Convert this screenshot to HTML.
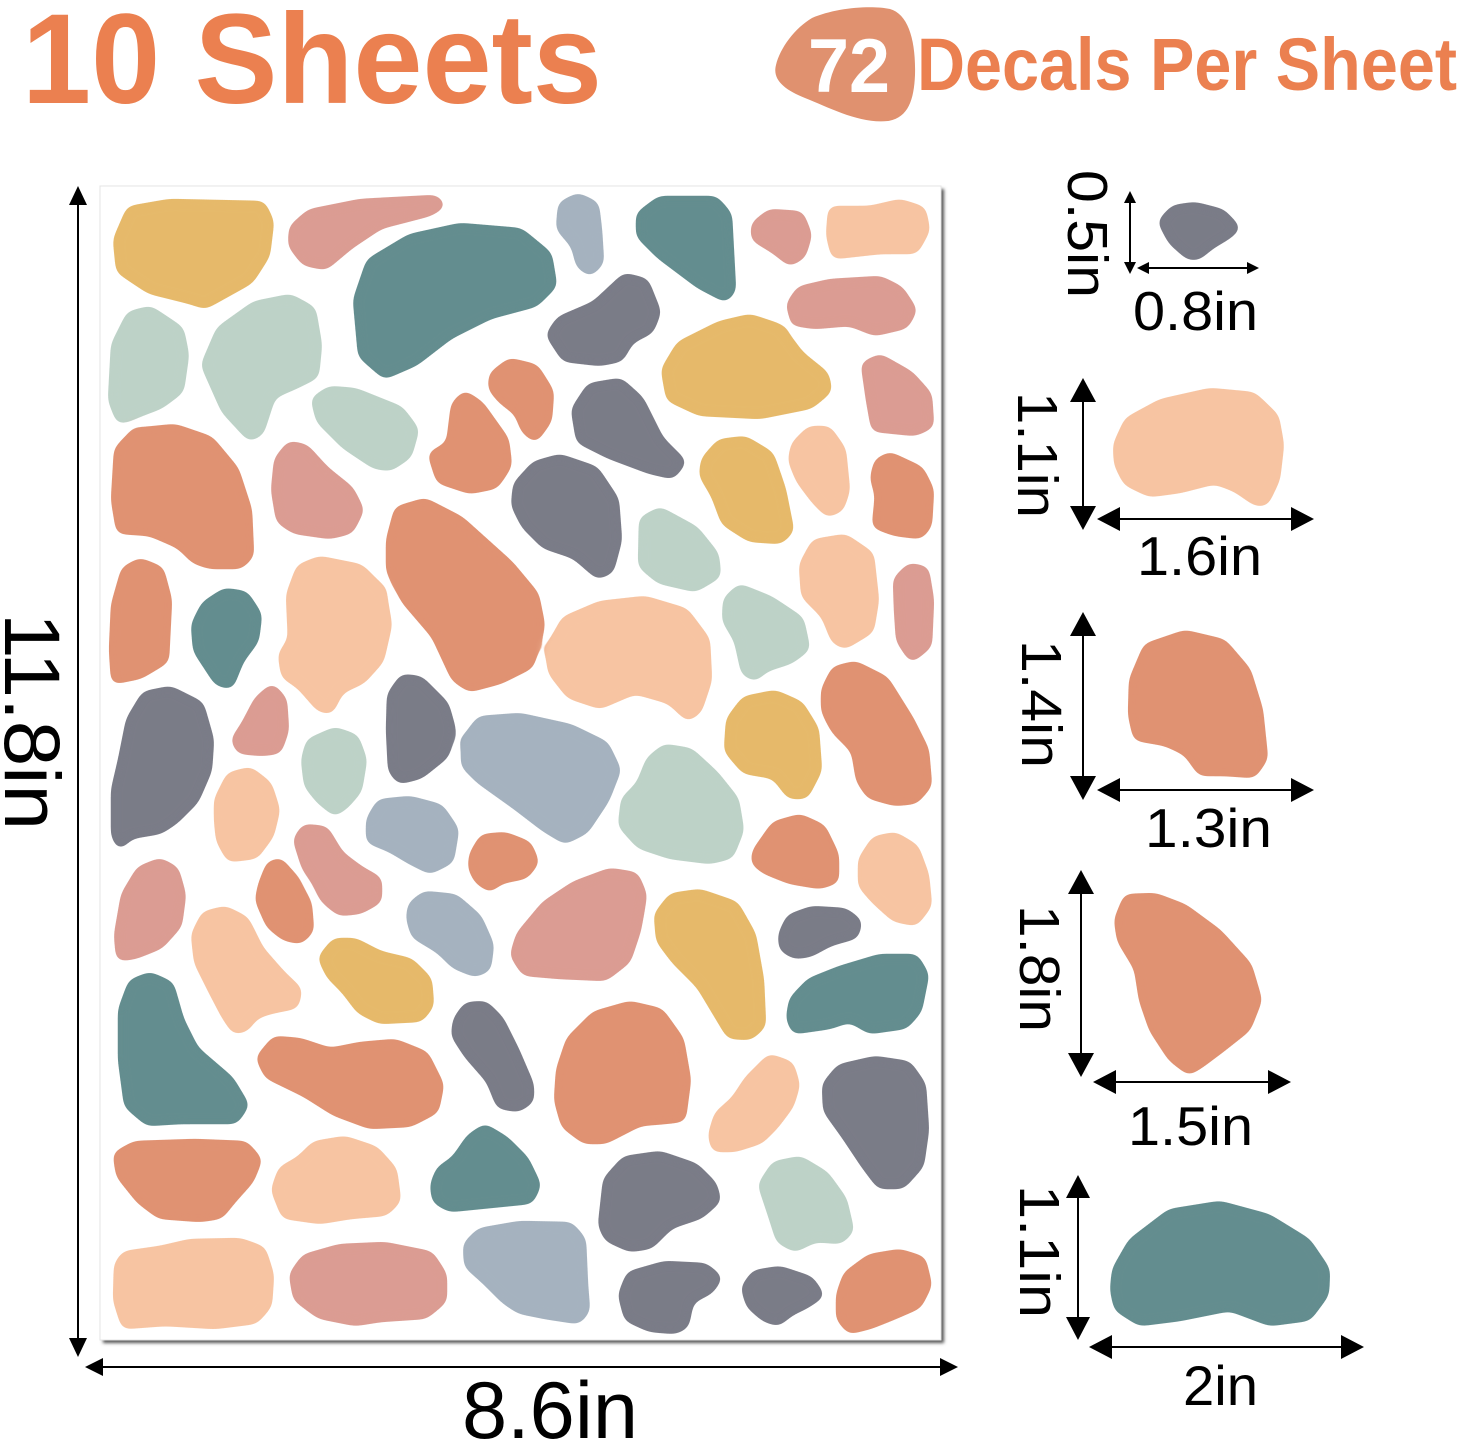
<!DOCTYPE html>
<html>
<head>
<meta charset="utf-8">
<style>
html,body{margin:0;padding:0;background:#fff;}
svg{display:block;}
.Y{fill:#E6B96A;stroke:#E6B96A}
.P{fill:#DB9C93;stroke:#DB9C93}
.T{fill:#638D8F;stroke:#638D8F}
.B{fill:#A5B2BF;stroke:#A5B2BF}
.S{fill:#7A7B87;stroke:#7A7B87}
.O{fill:#E09272;stroke:#E09272}
.C{fill:#F7C4A2;stroke:#F7C4A2}
.G{fill:#BDD2C7;stroke:#BDD2C7}
polygon{stroke-width:8;stroke-linejoin:round}
.ah{fill:#000;stroke:none}
.ln{stroke:#000;stroke-width:2;fill:none}
.lbl{font-family:"Liberation Sans",Arial,sans-serif;fill:#000}
</style>
</head>
<body>
<svg width="1460" height="1446" viewBox="0 0 1460 1446" xmlns="http://www.w3.org/2000/svg">
<defs>
<filter id="sh" x="-5%" y="-5%" width="110%" height="110%">
<feGaussianBlur stdDeviation="1.5"/>
</filter>
<filter id="goo" filterUnits="userSpaceOnUse" x="0" y="0" width="1460" height="1446">
<feGaussianBlur in="SourceGraphic" stdDeviation="5" result="bl"/>
<feColorMatrix in="bl" type="matrix" values="1 0 0 0 0  0 1 0 0 0  0 0 1 0 0  0 0 0 24 -11"/>
</filter>
</defs>
<rect x="0" y="0" width="1460" height="1446" fill="#fff"/>

<!-- Titles -->
<text x="22" y="103" font-family="Liberation Sans, Arial, sans-serif" font-weight="bold" font-size="128" fill="#EB8050" textLength="580" lengthAdjust="spacingAndGlyphs">10 Sheets</text>
<path d="M812,18 C835,8 870,5 890,9 C908,14 916,40 915,75 C914,100 908,118 888,121 C860,124 830,108 805,98 C785,90 772,80 776,65 C780,48 795,28 812,18 Z" fill="#E0916F"/>
<text x="808" y="92" font-family="Liberation Sans, Arial, sans-serif" font-weight="bold" font-size="76" fill="#fff" textLength="82" lengthAdjust="spacingAndGlyphs">72</text>
<text x="917" y="90" font-family="Liberation Sans, Arial, sans-serif" font-weight="bold" font-size="74" fill="#EB8050" textLength="540" lengthAdjust="spacingAndGlyphs">Decals Per Sheet</text>

<!-- Sheet -->
<rect x="103" y="189" width="841" height="1154" fill="#555" filter="url(#sh)"/>
<rect x="100" y="186" width="841" height="1154" fill="#fff" stroke="#e4e4e4" stroke-width="1"/>

<!-- Blobs -->
<g filter="url(#goo)">
<polygon class="Y" points="130,210 170,203 262,205 270,222 266,255 250,280 205,305 190,300 150,290 120,270 117,240"/>
<polygon class="P" points="293,228 310,213 360,203 435,199 441,205 430,212 380,225 350,245 325,266 305,262 292,245"/>
<polygon class="B" points="562,205 578,197 595,205 598,230 600,262 590,272 580,265 575,245 560,228"/>
<polygon class="T" points="640,215 660,200 715,200 728,215 732,290 725,298 700,285 660,255 640,235"/>
<polygon class="P" points="755,225 770,213 800,215 808,235 802,255 790,262 775,250 755,238"/>
<polygon class="C" points="832,210 870,210 900,203 922,210 926,230 915,250 880,250 835,255 830,235"/>
<polygon class="T" points="357,300 370,262 410,238 460,227 520,232 548,255 553,285 535,303 490,315 450,335 415,362 385,375 362,355"/>
<polygon class="S" points="550,335 560,320 595,305 625,277 645,282 657,312 650,330 630,340 620,358 600,362 565,358"/>
<polygon class="P" points="790,305 800,290 830,283 880,280 900,290 913,310 905,325 875,332 850,322 815,325 795,322"/>
<polygon class="G" points="115,345 130,315 150,310 180,330 185,355 180,390 160,405 120,420 112,400"/>
<polygon class="G" points="205,365 220,330 255,305 290,298 312,310 318,345 315,375 295,385 272,395 260,432 250,437 225,410"/>
<polygon class="G" points="315,400 330,390 355,392 400,410 415,430 408,455 390,467 375,465 345,445 320,420"/>
<polygon class="O" points="493,375 510,362 535,368 550,392 548,420 535,438 525,430 518,412 502,400 492,388"/>
<polygon class="O" points="432,455 450,445 455,405 465,395 480,405 505,440 508,465 495,485 470,490 440,480"/>
<polygon class="Y" points="665,370 680,345 720,325 750,318 780,328 800,355 825,375 828,390 810,405 760,415 700,412 670,398"/>
<polygon class="S" points="575,410 590,387 620,382 640,400 660,440 682,462 672,475 650,470 610,455 580,440"/>
<polygon class="P" points="865,365 880,358 910,375 928,395 930,425 915,432 875,428 870,400"/>
<polygon class="O" points="118,450 135,432 175,428 210,440 235,470 248,510 250,555 240,565 210,565 195,560 180,545 150,532 120,530 115,500"/>
<polygon class="P" points="278,460 290,445 305,448 325,470 350,490 360,510 350,530 330,535 295,530 280,520 275,490"/>
<polygon class="S" points="517,485 535,465 560,458 595,470 615,500 618,540 610,570 598,575 575,555 545,545 525,525 515,505"/>
<polygon class="Y" points="705,460 720,443 745,440 770,455 782,490 790,530 780,540 750,538 725,522 715,495 703,475"/>
<polygon class="C" points="795,445 810,430 828,430 842,450 846,490 840,508 828,513 815,500 800,480 792,460"/>
<polygon class="O" points="878,462 890,456 920,470 930,490 928,525 920,535 895,532 876,525 879,495 874,478"/>
<polygon class="G" points="643,520 660,511 695,530 715,555 717,575 695,588 660,580 642,565"/>
<polygon class="O" points="390,540 398,510 425,502 460,520 510,565 535,595 541,625 530,665 500,680 470,688 455,678 435,635 405,600 390,570"/>
<polygon class="O" points="115,605 125,570 140,562 160,570 168,600 165,660 140,675 115,680 113,650"/>
<polygon class="T" points="195,625 205,605 225,592 245,595 258,615 255,640 240,660 230,685 218,682 197,650"/>
<polygon class="C" points="290,595 300,568 320,560 360,568 382,590 388,625 380,660 362,680 340,690 330,710 320,708 300,685 285,675 282,655 292,640"/>
<polygon class="C" points="803,565 815,543 845,538 870,555 875,600 870,630 845,645 835,640 825,615 805,595"/>
<polygon class="P" points="897,580 910,567 925,570 930,600 928,645 912,658 900,640 898,610"/>
<polygon class="C" points="549,650 565,620 600,605 645,600 685,612 706,640 708,680 698,710 688,717 670,700 635,690 600,705 570,695 552,672"/>
<polygon class="G" points="727,600 740,588 770,600 800,620 806,648 790,660 765,668 755,677 745,672 738,640 726,620"/>
<polygon class="S" points="130,720 145,695 170,690 200,705 210,740 208,770 195,800 175,820 160,830 130,835 120,845 115,835 115,790 122,760"/>
<polygon class="P" points="235,740 245,725 258,700 272,688 283,700 285,730 278,750 262,752 240,750"/>
<polygon class="S" points="391,695 403,678 420,680 445,705 452,730 445,755 420,775 400,780 392,770 390,730"/>
<polygon class="G" points="305,760 310,742 335,731 355,738 363,760 358,790 345,805 335,812 320,800 308,785"/>
<polygon class="B" points="465,740 480,720 520,717 570,728 605,745 617,770 605,800 585,830 565,840 545,828 515,805 480,780 465,765"/>
<polygon class="Y" points="730,720 745,700 775,694 800,705 815,730 818,770 805,795 790,795 775,775 745,770 728,750"/>
<polygon class="O" points="825,690 835,670 855,665 885,680 910,720 925,750 928,785 915,800 895,802 870,795 860,780 855,750 835,730 825,710"/>
<polygon class="C" points="218,800 230,776 250,771 268,785 276,810 270,835 255,855 230,858 220,840 218,820"/>
<polygon class="B" points="370,820 380,803 410,800 440,808 455,830 450,860 430,870 410,860 390,848 370,840"/>
<polygon class="G" points="625,800 640,785 650,760 665,748 690,752 715,775 735,800 740,830 730,855 710,860 670,855 640,845 622,825"/>
<polygon class="O" points="473,855 483,838 505,836 528,845 535,862 525,875 500,880 490,888 478,880 472,868"/>
<polygon class="P" points="297,840 305,828 325,830 340,855 360,870 378,880 378,900 360,910 340,912 325,900 315,880 305,865"/>
<polygon class="O" points="756,852 775,825 800,818 822,828 835,855 835,880 820,885 790,880 765,870 755,862"/>
<polygon class="C" points="862,860 875,840 895,836 915,848 925,875 928,905 915,922 895,918 875,900 862,885"/>
<polygon class="P" points="118,935 125,895 140,870 160,862 175,870 182,895 178,925 160,945 135,955 120,957"/>
<polygon class="O" points="262,885 270,865 280,862 295,880 308,905 310,930 300,940 285,937 270,925 259,900"/>
<polygon class="C" points="195,935 205,915 225,910 245,920 260,950 282,975 298,990 295,1005 270,1010 255,1015 245,1028 235,1030 225,1015 212,990 198,962"/>
<polygon class="B" points="412,905 425,895 455,898 478,918 490,945 487,968 475,973 455,965 440,950 415,935 410,918"/>
<polygon class="P" points="514,955 520,935 545,905 575,885 610,872 635,876 643,895 637,930 627,960 605,977 560,975 525,972"/>
<polygon class="Y" points="658,915 672,897 700,893 735,905 752,935 760,980 762,1025 750,1036 730,1035 715,1010 700,985 675,960 660,940"/>
<polygon class="S" points="782,935 790,918 812,910 845,912 858,922 855,935 830,942 810,953 795,955 783,948"/>
<polygon class="Y" points="322,958 335,942 355,942 380,955 410,962 428,980 430,1005 420,1018 380,1020 360,1010 345,990 330,975"/>
<polygon class="T" points="793,1000 810,982 840,970 880,958 915,958 925,975 918,1010 905,1025 870,1030 850,1018 830,1025 795,1030 790,1018"/>
<polygon class="T" points="122,1010 132,983 150,976 170,985 180,1020 195,1050 230,1080 245,1105 235,1120 180,1120 148,1122 128,1105 122,1060"/>
<polygon class="S" points="457,1020 467,1006 485,1005 500,1020 515,1050 530,1085 530,1100 518,1108 500,1105 490,1080 468,1055 455,1035"/>
<polygon class="O" points="560,1070 570,1040 595,1015 630,1005 660,1012 680,1040 687,1080 682,1118 665,1120 640,1122 605,1140 585,1140 565,1125 558,1100"/>
<polygon class="O" points="260,1058 275,1040 300,1042 330,1052 360,1046 395,1043 425,1055 440,1085 435,1110 410,1123 370,1125 335,1112 305,1093 268,1075"/>
<polygon class="C" points="712,1135 718,1115 735,1100 748,1080 770,1058 790,1065 796,1085 790,1105 775,1125 760,1140 735,1148 715,1148"/>
<polygon class="S" points="826,1085 840,1068 875,1060 908,1065 922,1085 925,1130 920,1165 902,1185 880,1185 865,1165 845,1135 827,1110"/>
<polygon class="O" points="117,1155 135,1145 195,1143 245,1145 258,1160 250,1180 232,1200 220,1215 200,1218 160,1215 140,1200 120,1175"/>
<polygon class="C" points="275,1190 282,1170 300,1160 315,1145 345,1140 375,1150 393,1170 397,1200 385,1212 350,1215 320,1220 285,1215"/>
<polygon class="T" points="434,1185 440,1170 455,1160 470,1138 485,1128 505,1140 525,1160 537,1185 530,1200 480,1205 450,1208 436,1200"/>
<polygon class="S" points="602,1225 607,1180 625,1160 660,1155 695,1167 713,1185 717,1200 700,1215 670,1225 650,1245 630,1248 608,1238"/>
<polygon class="G" points="762,1185 775,1165 800,1160 825,1175 843,1200 850,1230 840,1240 815,1238 795,1248 780,1240 772,1215"/>
<polygon class="C" points="118,1265 125,1255 160,1250 190,1243 240,1242 262,1250 270,1275 268,1305 255,1320 215,1325 165,1322 125,1325 117,1300"/>
<polygon class="P" points="293,1275 305,1258 340,1248 385,1246 430,1255 443,1275 443,1300 425,1315 380,1318 355,1322 320,1315 297,1298"/>
<polygon class="B" points="467,1245 480,1232 520,1225 570,1226 582,1240 584,1285 586,1310 578,1320 545,1315 520,1310 505,1300 485,1280 468,1265"/>
<polygon class="S" points="622,1295 630,1275 665,1265 705,1267 718,1278 710,1290 690,1300 685,1325 675,1330 650,1328 628,1318"/>
<polygon class="S" points="745,1288 755,1274 780,1270 810,1280 820,1295 805,1305 790,1312 778,1322 765,1318 750,1305"/>
<polygon class="O" points="840,1295 847,1275 870,1258 900,1253 922,1260 928,1285 918,1305 895,1315 870,1325 850,1330 840,1318"/>

<!-- Right side sample blobs -->
<polygon class="S" points="1162,222 1174,209 1195,206 1222,213 1236,228 1228,235 1211,245 1198,256 1189,256 1172,241"/>
<polygon class="C" points="1117,445 1128,421 1161,403 1210,392 1253,396 1275,417 1280,445 1276,479 1265,502 1256,502 1236,488 1215,480 1180,489 1150,493 1127,482 1118,464"/>
<polygon class="O" points="1133,680 1147,647 1185,634 1223,643 1247,671 1259,710 1264,758 1253,774 1225,772 1201,772 1187,752 1166,742 1137,737 1132,715"/>
<polygon class="O" points="1118,920 1127,898 1155,897 1184,908 1218,933 1248,966 1258,1000 1247,1028 1223,1047 1199,1065 1189,1071 1172,1058 1153,1029 1143,1000 1138,968 1121,940"/>
<polygon class="T" points="1116,1270 1132,1242 1170,1213 1220,1205 1268,1218 1307,1242 1326,1270 1325,1294 1308,1317 1270,1322 1230,1307 1180,1317 1140,1322 1118,1308 1114,1290"/>
</g>

<!-- Left vertical arrow -->
<line class="ln" x1="78" y1="200" x2="78" y2="1342"/>
<polygon class="ah" points="78,186 69,205 87,205"/>
<polygon class="ah" points="78,1357 69,1338 87,1338"/>
<text class="lbl" font-size="79" transform="translate(5,613) rotate(90)" textLength="217" lengthAdjust="spacingAndGlyphs">11.8in</text>

<!-- Bottom horizontal arrow -->
<line class="ln" x1="100" y1="1367" x2="943" y2="1367"/>
<polygon class="ah" points="85,1367 103,1358 103,1376"/>
<polygon class="ah" points="958,1367 940,1358 940,1376"/>
<text class="lbl" font-size="81" x="462" y="1438" textLength="176" lengthAdjust="spacingAndGlyphs">8.6in</text>

<!-- 1: 0.5 x 0.8 -->
<line class="ln" x1="1130" y1="200" x2="1130" y2="266"/>
<polygon class="ah" points="1130,191 1124,203 1136,203"/>
<polygon class="ah" points="1130,274 1124,262 1136,262"/>
<line class="ln" x1="1145" y1="268" x2="1251" y2="268"/>
<polygon class="ah" points="1137,268 1149,262 1149,274"/>
<polygon class="ah" points="1259,268 1247,262 1247,274"/>
<text class="lbl" font-size="57" transform="translate(1068,170) rotate(90)" textLength="128" lengthAdjust="spacingAndGlyphs">0.5in</text>
<text class="lbl" font-size="55" x="1133" y="330" textLength="125" lengthAdjust="spacingAndGlyphs">0.8in</text>

<!-- 2: 1.1 x 1.6 -->
<line class="ln" x1="1083" y1="395" x2="1083" y2="513"/>
<polygon class="ah" points="1083,378 1070,402 1096,402"/>
<polygon class="ah" points="1083,530 1070,506 1096,506"/>
<line class="ln" x1="1110" y1="519" x2="1300" y2="519"/>
<polygon class="ah" points="1097,519 1120,507 1120,531"/>
<polygon class="ah" points="1314,519 1291,507 1291,531"/>
<text class="lbl" font-size="57" transform="translate(1018,392) rotate(90)" textLength="126" lengthAdjust="spacingAndGlyphs">1.1in</text>
<text class="lbl" font-size="55" x="1137" y="575" textLength="125" lengthAdjust="spacingAndGlyphs">1.6in</text>

<!-- 3: 1.4 x 1.3 -->
<line class="ln" x1="1083" y1="628" x2="1083" y2="784"/>
<polygon class="ah" points="1083,612 1070,636 1096,636"/>
<polygon class="ah" points="1083,800 1070,776 1096,776"/>
<line class="ln" x1="1110" y1="790" x2="1300" y2="790"/>
<polygon class="ah" points="1097,790 1120,778 1120,802"/>
<polygon class="ah" points="1314,790 1291,778 1291,802"/>
<text class="lbl" font-size="57" transform="translate(1022,640) rotate(90)" textLength="128" lengthAdjust="spacingAndGlyphs">1.4in</text>
<text class="lbl" font-size="55" x="1145" y="847" textLength="127" lengthAdjust="spacingAndGlyphs">1.3in</text>

<!-- 4: 1.8 x 1.5 -->
<line class="ln" x1="1081" y1="886" x2="1081" y2="1061"/>
<polygon class="ah" points="1081,870 1068,894 1094,894"/>
<polygon class="ah" points="1081,1077 1068,1053 1094,1053"/>
<line class="ln" x1="1106" y1="1082" x2="1278" y2="1082"/>
<polygon class="ah" points="1093,1082 1116,1070 1116,1094"/>
<polygon class="ah" points="1291,1082 1268,1070 1268,1094"/>
<text class="lbl" font-size="57" transform="translate(1020,905) rotate(90)" textLength="127" lengthAdjust="spacingAndGlyphs">1.8in</text>
<text class="lbl" font-size="55" x="1128" y="1145" textLength="125" lengthAdjust="spacingAndGlyphs">1.5in</text>

<!-- 5: 1.1 x 2 -->
<line class="ln" x1="1078" y1="1190" x2="1078" y2="1325"/>
<polygon class="ah" points="1078,1175 1066,1198 1090,1198"/>
<polygon class="ah" points="1078,1340 1066,1317 1090,1317"/>
<line class="ln" x1="1102" y1="1347" x2="1350" y2="1347"/>
<polygon class="ah" points="1089,1347 1112,1335 1112,1359"/>
<polygon class="ah" points="1364,1347 1341,1335 1341,1359"/>
<text class="lbl" font-size="57" transform="translate(1020,1185) rotate(90)" textLength="133" lengthAdjust="spacingAndGlyphs">1.1in</text>
<text class="lbl" font-size="56" x="1183" y="1405" textLength="75" lengthAdjust="spacingAndGlyphs">2in</text>
</svg>
</body>
</html>
